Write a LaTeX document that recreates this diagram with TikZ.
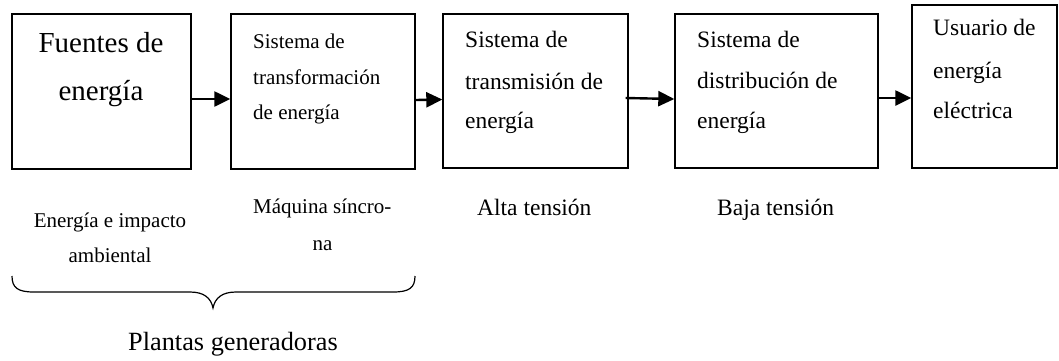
\documentclass[tikz,border=0pt]{standalone}
\usepackage{fontspec}
\setmainfont{Liberation Serif}
\usetikzlibrary{arrows.meta}
\begin{document}
\begin{tikzpicture}[x=1pt,y=-1pt,
  box/.style={draw, line width=1.4pt, inner sep=0pt},
  arr/.style={-{Triangle[length=16pt,width=15pt]}, line width=2.4pt},
  lbl/.style={anchor=base west, inner sep=0pt},
  clbl/.style={anchor=base, inner sep=0pt},
  fA/.style={font=\fontsize{29}{34}\selectfont},
  fB/.style={font=\fontsize{21}{25}\selectfont},
  fC/.style={font=\fontsize{23.5}{28}\selectfont},
  fD/.style={font=\fontsize{26.3}{31}\selectfont}]
\useasboundingbox (0,0) rectangle (1059,360);
% boxes
\node[box, minimum width=179pt, minimum height=155pt] (b1) at (101.5,91.5) {};
\node[box, minimum width=184pt, minimum height=155pt] (b2) at (323,91.5) {};
\node[box, minimum width=185pt, minimum height=154pt] (b3) at (535.5,91) {};
\node[box, minimum width=203pt, minimum height=154pt] (b4) at (776.5,91) {};
\node[box, minimum width=145pt, minimum height=163pt] (b5) at (984.5,86.5) {};
% box texts
\node[clbl, fA] (t1a) at (101,52) {Fuentes de};
\node[clbl, fA] (t1b) at (101,100) {energía};
\node[lbl, fB] (t2a) at (253,48) {Sistema de};
\node[lbl, fB] (t2b) at (253,84) {transformación};
\node[lbl, fB] (t2c) at (253,119) {de energía};
\node[lbl, fC] (t3a) at (465,47) {Sistema de};
\node[lbl, fC] (t3b) at (465,89) {transmisión de};
\node[lbl, fC] (t3c) at (465,128) {energía};
\node[lbl, fC] (t4a) at (697,47) {Sistema de};
\node[lbl, fC] (t4b) at (697,88) {distribución de};
\node[lbl, fC] (t4c) at (697,128) {energía};
\node[lbl, fC] (t5a) at (933,35) {Usuario de};
\node[lbl, fC] (t5b) at (933,78) {energía};
\node[lbl, fC] (t5c) at (933,118) {eléctrica};
% arrows
\draw[arr] ([yshift=-7.5pt]b1.east) -- ([yshift=-7.5pt]b2.west);
\draw[arr] ([yshift=-8.5pt]b2.east) -- ([yshift=-8.5pt]b3.west);
\draw[arr] ([xshift=-3pt,yshift=-7pt]b3.east) -- ([yshift=-8pt]b4.west);
\draw[arr] ([yshift=-7pt]b4.east) -- ([yshift=-11.5pt]b5.west);
% lower labels
\node[clbl, fB] (l1a) at (110,227) {Energía e impacto};
\node[clbl, fB] (l1b) at (110,262) {ambiental};
\node[lbl, fB] (l2a) at (253,213) {Máquina síncro-};
\node[clbl, fB] (l2b) at (322.5,250) {na};
\node[lbl, fC] (l3) at (477,215) {Alta tensión};
\node[lbl, fC] (l4) at (717,215) {Baja tensión};
% brace
\draw[line width=1.2pt] (12,276) .. controls (12,288) and (18,292) .. (34,292)
  -- (190,292) .. controls (204,292) and (211,298) .. (213,308)
  .. controls (215,298) and (222,292) .. (236,292)
  -- (393,292) .. controls (409,292) and (415,288) .. (415,276);
\node[lbl, fD] (pg) at (128,350) {Plantas generadoras};
\end{tikzpicture}
\end{document}
